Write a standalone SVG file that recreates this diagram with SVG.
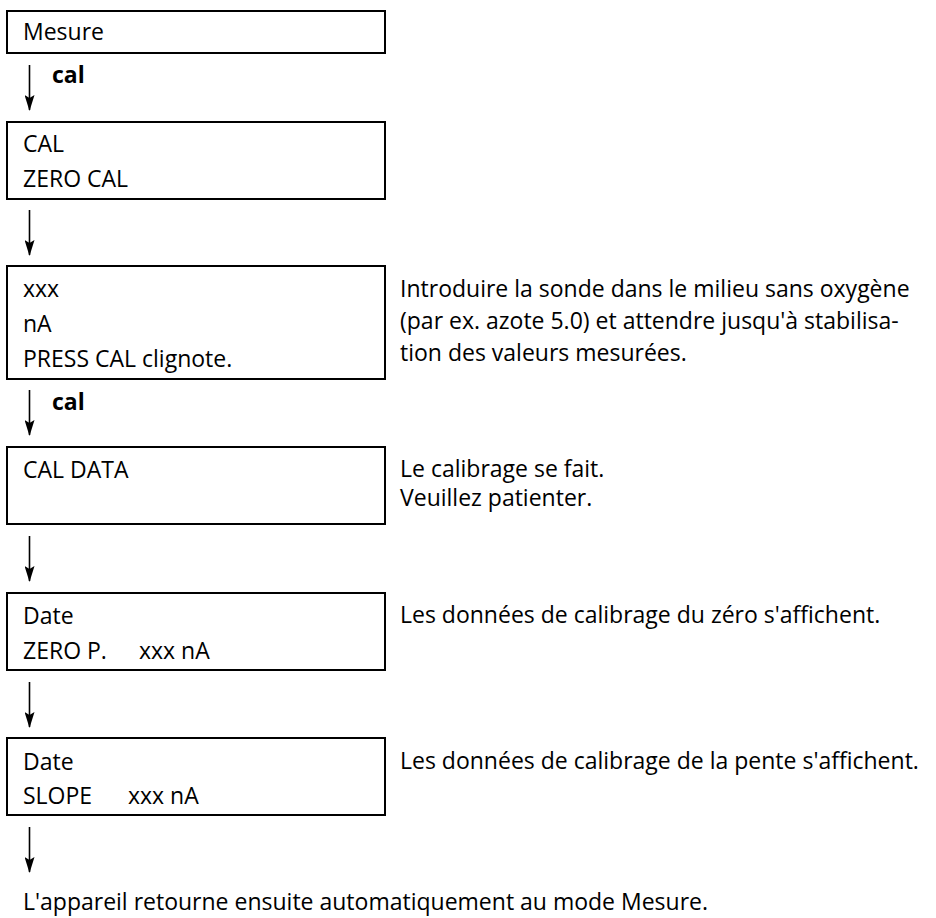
<svg xmlns="http://www.w3.org/2000/svg" width="936" height="918" viewBox="0 0 936 918">
<defs>
<marker id="ah" markerWidth="16" markerHeight="10" refX="15" refY="5" orient="auto" markerUnits="userSpaceOnUse" viewBox="0 0 16 10">
<path d="M0,0 L16,5 L0,10 L3,5 Z" fill="#000"/>
</marker>
</defs>
<style>
.box{fill:#fff;stroke:#000;stroke-width:2}
.t{font-family:"Open Sans","Liberation Sans",sans-serif;font-size:23px;fill:#000}
.b{font-family:"Open Sans","Liberation Sans",sans-serif;font-size:23px;font-weight:bold;fill:#000}
.c{stroke:#000;stroke-width:1.6;fill:none}
</style>
<rect width="936" height="918" fill="#fff"/>
<g id="connectors">
<line class="c" x1="29.5" y1="65" x2="29.5" y2="110" marker-end="url(#ah)"/>
<line class="c" x1="29.5" y1="210" x2="29.5" y2="255" marker-end="url(#ah)"/>
<line class="c" x1="29.5" y1="390" x2="29.5" y2="435" marker-end="url(#ah)"/>
<line class="c" x1="29.5" y1="536" x2="29.5" y2="581" marker-end="url(#ah)"/>
<line class="c" x1="29.5" y1="682" x2="29.5" y2="727" marker-end="url(#ah)"/>
<line class="c" x1="29.5" y1="827" x2="29.5" y2="872" marker-end="url(#ah)"/>
<text class="b" x="52" y="83">cal</text>
<text class="b" x="52" y="410">cal</text>
</g>
<g id="n1">
<rect class="box" x="7" y="11" width="378" height="42"/>
<text class="t" x="23" y="40">Mesure</text>
</g>
<g id="n2">
<rect class="box" x="7" y="122" width="378" height="77"/>
<text class="t" x="23" y="152">CAL</text>
<text class="t" x="23" y="187">ZERO CAL</text>
</g>
<g id="n3">
<rect class="box" x="7" y="266" width="378" height="113"/>
<text class="t" x="23" y="297">xxx</text>
<text class="t" x="23" y="332">nA</text>
<text class="t" x="23" y="367">PRESS CAL clignote.</text>
</g>
<g id="n3note">
<text class="t" x="400" y="297">Introduire la sonde dans le milieu sans oxygène</text>
<text class="t" x="400" y="329">(par ex. azote 5.0) et attendre jusqu'à stabilisa-</text>
<text class="t" x="400" y="361">tion des valeurs mesurées.</text>
</g>
<g id="n4">
<rect class="box" x="7" y="447" width="378" height="77"/>
<text class="t" x="23" y="478">CAL DATA</text>
</g>
<g id="n4note">
<text class="t" x="400" y="477">Le calibrage se fait.</text>
<text class="t" x="400" y="506">Veuillez patienter.</text>
</g>
<g id="n5">
<rect class="box" x="7" y="593" width="378" height="77"/>
<text class="t" x="23" y="624">Date</text>
<text class="t" x="23" y="659">ZERO P.</text>
<text class="t" x="139" y="659">xxx nA</text>
</g>
<g id="n5note">
<text class="t" x="400" y="623">Les données de calibrage du zéro s'affichent.</text>
</g>
<g id="n6">
<rect class="box" x="7" y="738" width="378" height="77"/>
<text class="t" x="23" y="770">Date</text>
<text class="t" x="23" y="804">SLOPE</text>
<text class="t" x="128" y="804">xxx nA</text>
</g>
<g id="n6note">
<text class="t" x="400" y="769">Les données de calibrage de la pente s'affichent.</text>
</g>
<g id="footer">
<text class="t" x="23" y="910">L'appareil retourne ensuite automatiquement au mode Mesure.</text>
</g>
</svg>
